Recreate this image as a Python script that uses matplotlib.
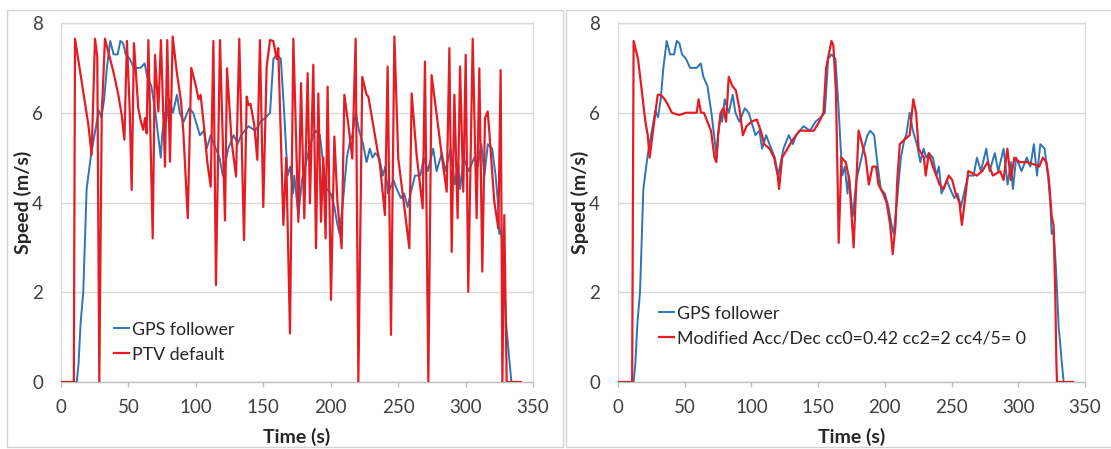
import matplotlib
matplotlib.use("Agg")
import matplotlib.pyplot as plt
from matplotlib.patches import Rectangle

# GPS follower speed trace (time in s, speed in m/s)
gps_t = [0, 11.7, 13, 14.5, 16.5, 19, 22.3, 25.8, 28, 30,
         32, 34, 36.5, 39, 42, 44, 46, 48, 51, 54,
         59, 62, 64, 67, 70, 72, 74, 75, 77, 78,
         80, 83, 86, 88, 91, 95, 98, 100, 103, 106,
         108, 111, 113.5, 117.5, 120, 124, 128, 131, 133.5, 139,
         144, 148, 152, 155, 157.5, 160, 163, 165.5, 168, 170,
         172, 173, 176, 178.7, 181, 184, 187, 189, 192, 194.7,
         197, 200, 202.7, 205, 206.6, 209, 212, 214.6, 216, 218.6,
         221, 224, 226.6, 229, 231, 233, 236, 238.6, 240.5, 242.5,
         246.5, 249, 252, 254.5, 257, 260, 262.5, 266.5, 269, 272,
         276, 278.5, 282.4, 285, 289, 292, 294.4, 296, 298.4, 302.4,
         306.4, 309, 311.7, 314, 316.5, 319.7, 322.3, 324, 325, 326.4,
         328.3, 330.3, 331, 332.4, 334, 341]
gps_v = [0, 0, 0.4, 1.3, 2.0, 4.3, 5.07, 5.67, 6.05, 5.9,
         6.3, 7.0, 7.6, 7.3, 7.3, 7.6, 7.55, 7.3, 7.2, 7.0,
         7.0, 7.1, 6.8, 6.6, 6.0, 5.5, 5.0, 5.5, 6.0, 5.8,
         6.3, 6.0, 6.4, 6.0, 5.8, 6.1, 6.0, 5.8, 5.5, 5.6,
         5.2, 5.5, 5.3, 5.0, 4.6, 5.2, 5.5, 5.3, 5.5, 5.7,
         5.6, 5.8, 5.9, 6.0, 7.2, 7.3, 7.2, 6.0, 4.6, 4.8,
         4.2, 4.6, 3.7, 4.5, 4.8, 5.2, 5.5, 5.6, 5.5, 4.8,
         4.3, 4.2, 3.9, 3.5, 3.3, 4.0, 5.0, 5.4, 5.5, 6.0,
         5.6, 5.3, 4.9, 5.2, 5.0, 5.1, 5.0, 4.6, 4.8, 4.2,
         4.5, 4.3, 4.1, 4.2, 3.9, 4.3, 4.6, 4.6, 5.0, 4.7,
         5.2, 4.7, 5.1, 4.7, 5.2, 4.4, 4.9, 4.3, 5.0, 4.7,
         5.0, 4.8, 5.3, 4.6, 5.3, 5.2, 4.6, 4.0, 3.3, 3.4,
         2.5, 1.2, 1.0, 0.5, 0, 0]

# PTV default car-following parameters
ptv_t = [0, 9.5, 10.4, 20.3, 22.7, 25.2, 26.9, 28.4, 30.2, 32.6,
         38.8, 42.5, 45, 47, 48.9, 50.9, 52.4, 54.1, 57.3, 59.3,
         61, 62.3, 63.5, 64.8, 68, 69.7, 72.2, 74.1, 77.1, 78.8,
         80.8, 82.8, 85.8, 89, 90.7, 94, 96.6, 100, 102, 103.5,
         106, 108.5, 111, 113, 114.9, 117.9, 121.6, 123.1, 126.5, 129.8,
         132.2, 135.7, 137.7, 138.9, 140.5, 143.3, 145.6, 147.5, 150, 152.5,
         155, 157.4, 159.9, 161.1, 164.9, 167, 169.8, 172.3, 176, 178,
         180.4, 182.9, 184.6, 187.1, 189.1, 190.8, 192.8, 194.5, 196.2, 197.7,
         200.2, 202.7, 205, 208.1, 210.1, 213.1, 216, 218.5, 220.5, 223.4,
         226.6, 227.9, 232.8, 236.5, 240.2, 242.2, 244.7, 247.2, 250.1, 253.8,
         258.3, 260, 263.7, 268.2, 269.9, 272.4, 274.8, 278.6, 282.3, 286,
         288, 289.7, 291.7, 294.1, 295.9, 298.3, 300.1, 302, 305.3, 308.2,
         310.2, 312.4, 314.4, 316.4, 317.6, 321.3, 324.3, 326, 327.3, 328.7,
         330.5, 341]
ptv_v = [0, 0, 7.65, 5.73, 5.06, 7.65, 7.25, 0, 5.95, 7.65,
         6.92, 6.4, 5.95, 5.4, 7.6, 6.1, 4.28, 7.55, 6.1, 5.8,
         5.62, 5.88, 5.54, 7.62, 3.2, 7.29, 6.03, 7.62, 4.8, 7.62,
         4.91, 7.7, 6.92, 6.25, 5.58, 3.65, 7.0, 6.6, 6.3, 6.4,
         5.7, 4.9, 4.35, 7.6, 2.16, 7.62, 3.6, 6.99, 5.36, 4.58,
         7.65, 3.16, 6.36, 6.17, 6.2, 5.73, 4.95, 7.62, 3.9, 7.03,
         7.62, 7.6, 7.2, 7.44, 3.5, 5.0, 1.08, 7.65, 3.57, 6.66,
         3.65, 6.88, 3.98, 7.07, 2.98, 6.43, 3.57, 5.0, 3.2, 6.58,
         1.83, 5.47, 4.0, 2.98, 6.4, 5.73, 4.98, 7.65, 0, 6.8,
         6.4, 6.36, 5.5, 4.84, 3.72, 7.03, 1.05, 7.7, 4.98, 4.09,
         2.98, 6.43, 5.06, 3.87, 7.14, 0, 6.84, 5.95, 5.06, 4.24,
         7.44, 2.9, 6.4, 3.65, 7.03, 4.24, 7.29, 2.01, 7.65, 3.65,
         6.99, 2.46, 5.88, 6.03, 5.58, 4.02, 3.42, 6.95, 0, 3.72,
         0, 0]

# Modified acceleration/deceleration parameters
mod_t = [0, 10.6, 11.7, 15, 17.8, 20.5, 22.3, 23.7, 25.8, 28,
         29.8, 32, 35, 37, 40.4, 45.7, 51, 56.4, 59, 60.4,
         62.2, 64.4, 67, 69.7, 72.3, 73.7, 75, 77, 79, 81,
         83, 85.6, 88.3, 91, 93.6, 96.3, 100, 104, 107, 109.6,
         113.6, 117, 119.7, 120.7, 123, 127, 131, 133.5, 136, 141.5,
         146.8, 150.8, 154, 156, 158, 160, 161.4, 163.3, 164.6, 165.4,
         167.5, 170.7, 173.4, 175.5, 176.6, 178, 180.3, 183, 185.6, 188,
         190.7, 193.4, 195.2, 198.7, 201.3, 204, 205.9, 208, 209.3, 211.2,
         214.6, 218.6, 221.3, 223.4, 225.3, 229.3, 230.6, 233, 236, 238.6,
         241, 244, 247.9, 250.5, 253, 255.9, 257.7, 259.8, 262.5, 269,
         273, 277, 281, 286.4, 289, 291.8, 294.4, 297, 301, 306.4,
         311.7, 315.7, 318.4, 321, 323, 325, 326.4, 327.7, 328.5, 329,
         341]
mod_v = [0, 0, 7.6, 7.2, 6.5, 5.8, 5.5, 5.0, 5.5, 6.0,
         6.4, 6.4, 6.3, 6.2, 6.0, 5.95, 6.0, 6.0, 6.0, 6.3,
         6.0, 6.0, 5.8, 5.6, 5.0, 4.9, 5.5, 6.0, 6.1, 5.8,
         6.8, 6.6, 6.5, 6.1, 5.5, 5.7, 5.8, 5.85, 5.6, 5.3,
         5.2, 5.0, 4.6, 4.3, 5.0, 5.2, 5.4, 5.5, 5.6, 5.6,
         5.6, 5.8, 6.0, 7.0, 7.3, 7.6, 7.5, 6.5, 4.5, 3.1,
         5.0, 4.9, 4.5, 3.5, 3.0, 4.0, 5.6, 5.3, 5.0, 4.4,
         4.8, 4.8, 4.4, 4.2, 4.0, 3.5, 2.85, 3.5, 4.5, 5.3,
         5.4, 5.5, 6.3, 6.0, 5.2, 5.0, 4.6, 5.1, 4.8, 4.6,
         4.4, 4.3, 4.6, 4.5, 4.2, 4.0, 3.5, 4.0, 4.7, 4.6,
         4.7, 4.9, 4.6, 4.7, 4.5, 5.2, 4.5, 5.0, 4.9, 4.9,
         4.85, 4.8, 5.0, 4.9, 4.5, 3.7, 3.5, 2.0, 0.5, 0,
         0]

x_ticks = [0, 50, 100, 150, 200, 250, 300, 350]
y_ticks = [0, 2, 4, 6, 8]

BLUE = "#2e75b6"
RED = "#e51c23"
GRID = "#d9d9d9"
TICK_TXT = "#404040"

plt.rcParams["font.family"] = ["Lato", "DejaVu Sans"]

W, H = 1111, 449
fig = plt.figure(figsize=(W / 100, H / 100), dpi=100)


def px_box(x0, y0, x1, y1):
    # pixel box (top-left origin) -> figure fraction [left, bottom, width, height]
    return [x0 / W, 1 - y1 / H, (x1 - x0) / W, (y1 - y0) / H]


# light panel frames around each chart
for x0, x1 in [(7, 563), (566, 1118)]:
    l, b, w, h = px_box(x0, 10, x1, 447)
    fig.patches.append(Rectangle((l, b), w, h, transform=fig.transFigure,
                                 fill=False, edgecolor="#d4d4d4", lw=1.0))


def draw_panel(box, red_t, red_v, red_label, legend_xy):
    ax = fig.add_axes(px_box(*box))
    ax.plot(gps_t, gps_v, color=BLUE, lw=1.4, label="GPS follower", zorder=3)
    ax.plot(red_t, red_v, color=RED, lw=1.6, label=red_label, zorder=4)

    ax.set_xlim(0, 350)
    ax.set_ylim(0, 8)
    ax.set_xticks(x_ticks)
    ax.set_yticks(y_ticks)
    ax.grid(axis="y", color=GRID, lw=1.0)
    ax.set_axisbelow(True)

    for side in ["top", "right", "left"]:
        ax.spines[side].set_color(GRID)
        ax.spines[side].set_linewidth(1.0)
    ax.spines["bottom"].set_color("#bfbfbf")
    ax.spines["bottom"].set_linewidth(1.0)

    ax.tick_params(axis="x", direction="out", length=3.5, width=1.0,
                   color="#bfbfbf", labelsize=13.5, labelcolor=TICK_TXT, pad=9)
    ax.tick_params(axis="y", length=0, labelsize=13.5, labelcolor=TICK_TXT, pad=13)

    ax.set_xlabel("Time (s)", fontsize=14, fontweight="bold", color="#262626", labelpad=8)
    ax.set_ylabel("Speed (m/s)", fontsize=14, fontweight="bold", color="#262626", labelpad=0)

    ax.legend(loc="center left", bbox_to_anchor=legend_xy, frameon=False,
              fontsize=12.8, handlelength=0.85, handletextpad=0.15,
              borderpad=0, borderaxespad=0, labelspacing=0.5,
              labelcolor="#262626")
    return ax


draw_panel((61, 23, 533, 382), ptv_t, ptv_v, "PTV default", (0.112, 0.111))
draw_panel((618, 23, 1085, 382), mod_t, mod_v,
           "Modified Acc/Dec cc0=0.42 cc2=2 cc4/5= 0", (0.088, 0.156))

fig.savefig("out.png", dpi=100)
